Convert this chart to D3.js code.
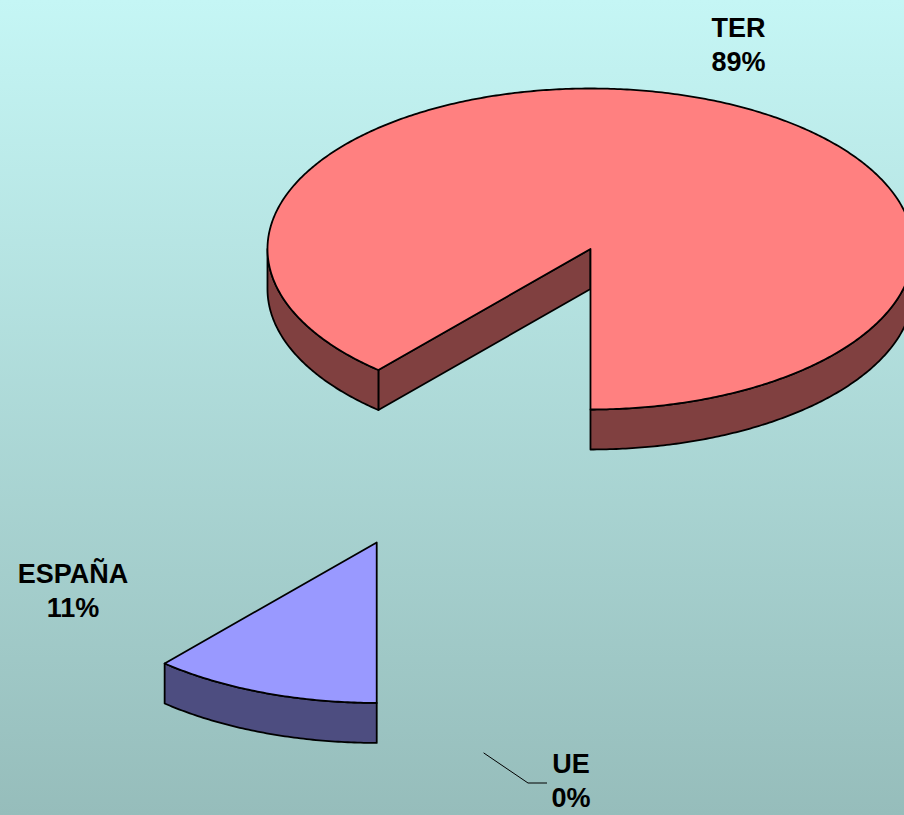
<!DOCTYPE html>
<html><head><meta charset="utf-8">
<script src="https://cdn.jsdelivr.net/npm/d3@7"></script>
<style>html,body{margin:0;padding:0;overflow:hidden;background:#fff} svg{display:block}</style>
</head><body>
<svg id="chart" width="904" height="815"></svg>
<script>
// ---- data ----
const categories = ["TER", "ESPAÑA", "UE"];
const values = [88.6, 11.4, 0];
const percentLabels = ["89%", "11%", "0%"];
const topColors = ["#ff8080", "#9999ff", "#ffffcc"];
const sideColors = ["#804040", "#4d4d80", "#808066"];

// ---- layout ----
const W = 904, H = 815;
const cx0 = 483.6, cy0 = 395.7, rx = 323, ry = 160.5, depth = 40;
const explodeX = 0.944, explodeY = 0.976;
const labelPos = { "TER": [738.5, 37], "ESPAÑA": [73, 583], "UE": [571, 773] };
const lineGap = 34;

const svg = d3.select("#chart");
const defs = svg.append("defs");
const grad = defs.append("linearGradient").attr("id", "bg")
  .attr("x1", 0).attr("y1", 0).attr("x2", 0).attr("y2", 1);
grad.append("stop").attr("offset", 0).attr("stop-color", "#c5f6f5");
grad.append("stop").attr("offset", 1).attr("stop-color", "#96bdbb");
svg.append("rect").attr("width", W).attr("height", H).attr("fill", "url(#bg)");

const data = categories.map((c, i) => ({ name: c, value: values[i], label: percentLabels[i], top: topColors[i], side: sideColors[i] }));
const pie = d3.pie().sort(null).value(d => d.value).startAngle(3 * Math.PI).endAngle(Math.PI);
const slices = pie(data).map(a => {
  const a0 = Math.min(a.startAngle, a.endAngle), a1 = Math.max(a.startAngle, a.endAngle);
  const mid = (a0 + a1) / 2;
  return { ...a, a0, a1, mid,
    cx: cx0 + explodeX * rx * Math.sin(mid),
    cy: cy0 - explodeY * ry * Math.cos(mid) };
});

const pt = (s, t, z) => [s.cx + rx * Math.sin(t), s.cy - ry * Math.cos(t) + z];
const sample = (s, t0, t1, z) => {
  const n = Math.max(2, Math.ceil(Math.abs(t1 - t0) / 0.01));
  return d3.range(n + 1).map(i => pt(s, t0 + (t1 - t0) * i / n, z));
};
const closed = d3.line().curve(d3.curveLinearClosed);

const g = svg.append("g")
  .attr("stroke", "#000").attr("stroke-width", 1.8).attr("stroke-linejoin", "round");

slices.forEach(s => {
  if (s.a1 - s.a0 <= 1e-9) return;
  const sg = g.append("g");
  // radial walls
  if (Math.sin(s.a0) < -1e-6) {
    const p = pt(s, s.a0, 0);
    sg.append("path").attr("fill", s.data.side)
      .attr("d", closed([[s.cx, s.cy], p, [p[0], p[1] + depth], [s.cx, s.cy + depth]]));
  }
  if (Math.sin(s.a1) > 1e-6) {
    const p = pt(s, s.a1, 0);
    sg.append("path").attr("fill", s.data.side)
      .attr("d", closed([[s.cx, s.cy], p, [p[0], p[1] + depth], [s.cx, s.cy + depth]]));
  }
  // outer walls (front half)
  for (let k = -1; k <= 2; k++) {
    const lo = Math.max(s.a0, Math.PI / 2 + 2 * Math.PI * k);
    const hi = Math.min(s.a1, 3 * Math.PI / 2 + 2 * Math.PI * k);
    if (hi - lo > 1e-6) {
      const pts = sample(s, lo, hi, 0).concat(sample(s, hi, lo, depth));
      sg.append("path").attr("fill", s.data.side).attr("d", closed(pts));
    }
  }
  // top face
  sg.append("path").attr("fill", s.data.top)
    .attr("d", closed([[s.cx, s.cy]].concat(sample(s, s.a0, s.a1, 0))));
});

// labels
const lab = svg.append("g")
  .attr("font-family", "'Liberation Sans', Arial, Helvetica, sans-serif")
  .attr("font-weight", "bold").attr("font-size", 27)
  .attr("text-anchor", "middle").attr("fill", "#000");

slices.forEach(s => {
  const [lx, ly] = labelPos[s.data.name];
  const t = lab.append("text").attr("x", lx).attr("y", ly);
  t.append("tspan").attr("x", lx).attr("y", ly).text(s.data.name);
  t.append("tspan").attr("x", lx).attr("y", ly + lineGap).text(s.data.label);
  if (s.a1 - s.a0 <= 1e-9) {
    // leader line for zero-size slice
    const p = pt(s, s.mid, depth);
    svg.append("path").attr("fill", "none").attr("stroke", "#000").attr("stroke-width", 1)
      .attr("d", d3.line()([p, [lx - 43, ly + 10], [lx - 24, ly + 10]]));
  }
});
</script>
</body></html>
